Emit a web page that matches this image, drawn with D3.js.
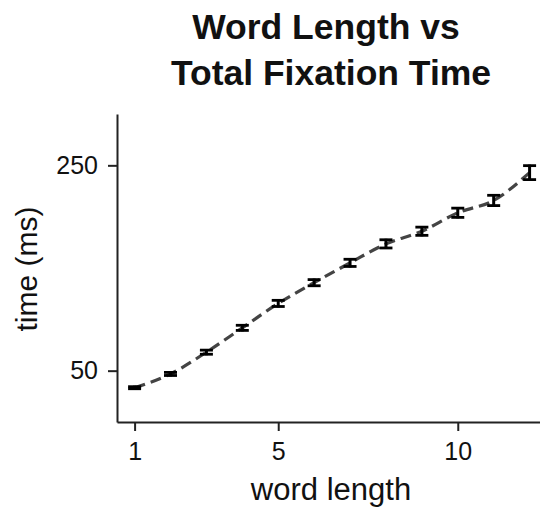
<!DOCTYPE html>
<html>
<head>
<meta charset="utf-8">
<script src="https://cdn.jsdelivr.net/npm/d3@7"></script>
<style>
  body { margin: 0; background: #fff; }
  text { font-family: "Liberation Sans", Arial, sans-serif; fill: #111; }
</style>
</head>
<body>
<svg id="chart" width="540" height="509"></svg>
<script>
// données
const wordLengths = [1, 2, 3, 4, 5, 6, 7, 8, 9, 10, 11, 12]
const meanTimes = [33.4, 46.8, 68, 91.7, 115.5, 135.7, 155, 173.5, 185.8, 203.8, 215.8, 242.9]
const errTimes = [1, 1.5, 2, 2.5, 3, 3, 3.5, 4, 4, 4.5, 5, 6.8]
const xTicks = [1, 5, 10]
const yTicks = [50, 250]

const data = wordLengths.map((w, i) => ({ w: w, t: meanTimes[i], e: errTimes[i] }))

const margin = { top: 114, right: 0, bottom: 87, left: 117 },
  width = 540 - margin.left - margin.right,
  height = 509 - margin.top - margin.bottom

const svg = d3.select("#chart")
const g = svg.append("g")
  .attr("transform", "translate(" + margin.left + "," + margin.top + ")")

const x = d3.scaleLinear().domain([0.51, 12.29]).range([0, width])
const y = d3.scaleLinear().domain([0, 300]).range([height, 0])

// axe x
const xAxis = g.append("g")
  .attr("transform", "translate(0," + height + ")")
  .call(d3.axisBottom(x).tickValues(xTicks).tickSize(9).tickPadding(11).tickSizeOuter(0))
// axe y
const yAxis = g.append("g")
  .call(d3.axisLeft(y).tickValues(yTicks).tickSize(9).tickPadding(10).tickSizeOuter(0))

for (const ax of [xAxis, yAxis]) {
  ax.select(".domain").attr("stroke", "#222").attr("stroke-width", 2)
  ax.selectAll(".tick line").attr("stroke", "#222").attr("stroke-width", 2)
  ax.selectAll(".tick text").style("font-size", "25px").attr("fill", "#111")
    .style("font-family", '"Liberation Sans", Arial, sans-serif')
}

// ligne pointillée
const line = d3.line()
  .x(d => x(d.w))
  .y(d => y(d.t))
  .curve(d3.curveMonotoneX)

g.append("path")
  .datum(data)
  .attr("fill", "none")
  .attr("stroke", "#444")
  .attr("stroke-width", 3.2)
  .attr("stroke-dasharray", "11,6")
  .attr("d", line)

// barres d'erreur
const capW = 6.5
const bars = g.selectAll(".err").data(data).enter().append("g").attr("class", "err")
bars.append("line")
  .attr("x1", d => x(d.w)).attr("x2", d => x(d.w))
  .attr("y1", d => y(d.t - d.e) + 1).attr("y2", d => y(d.t + d.e) - 1)
  .attr("stroke", "#000").attr("stroke-width", 3)
bars.append("line")
  .attr("x1", d => x(d.w) - capW).attr("x2", d => x(d.w) + capW)
  .attr("y1", d => y(d.t - d.e)).attr("y2", d => y(d.t - d.e))
  .attr("stroke", "#000").attr("stroke-width", 2.8)
bars.append("line")
  .attr("x1", d => x(d.w) - capW).attr("x2", d => x(d.w) + capW)
  .attr("y1", d => y(d.t + d.e)).attr("y2", d => y(d.t + d.e))
  .attr("stroke", "#000").attr("stroke-width", 2.8)

// titres
svg.append("text")
  .attr("x", 326).attr("y", 39)
  .attr("text-anchor", "middle")
  .style("font-size", "35.5px").style("font-weight", "bold")
  .text("Word Length vs")
svg.append("text")
  .attr("x", 331).attr("y", 85)
  .attr("text-anchor", "middle")
  .style("font-size", "35.5px").style("font-weight", "bold")
  .text("Total Fixation Time")

svg.append("text")
  .attr("x", 331).attr("y", 500)
  .attr("text-anchor", "middle")
  .style("font-size", "31px")
  .text("word length")

svg.append("text")
  .attr("transform", "translate(37,269) rotate(-90)")
  .attr("text-anchor", "middle")
  .style("font-size", "30px")
  .text("time (ms)")
</script>
</body>
</html>
